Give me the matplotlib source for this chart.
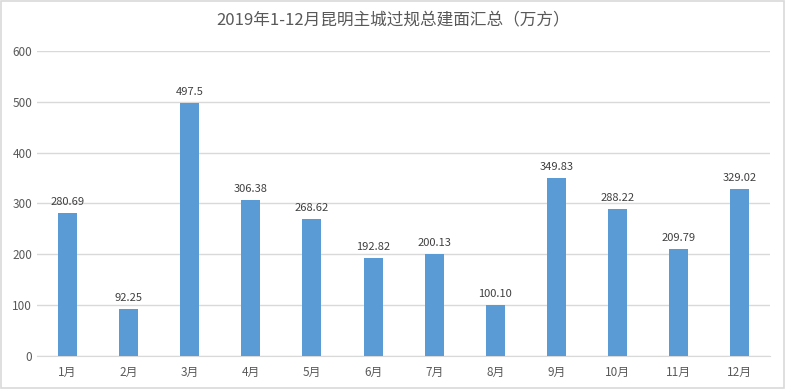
import matplotlib.pyplot as plt
from matplotlib.patches import Rectangle

plt.rcParams['font.family'] = ['Noto Sans CJK SC', 'DejaVu Sans']

months = ['1月', '2月', '3月', '4月', '5月', '6月', '7月', '8月', '9月', '10月', '11月', '12月']
values = [280.69, 92.25, 497.5, 306.38, 268.62, 192.82, 200.13, 100.10, 349.83, 288.22, 209.79, 329.02]
labels = ['280.69', '92.25', '497.5', '306.38', '268.62', '192.82', '200.13', '100.10',
          '349.83', '288.22', '209.79', '329.02']

fig = plt.figure(figsize=(7.86, 3.89), dpi=100)
ax = fig.add_axes([0.047, 0.085, 0.933, 0.784])

x = range(len(months))
ax.bar(x, values, width=0.31, color='#5b9bd5', zorder=3)
for i, v in enumerate(values):
    ax.text(i, v + 12, labels[i], ha='center', va='bottom', fontsize=8, color='#404040')

ax.set_xlim(-0.5, len(months) - 0.5)
ax.set_ylim(0, 600)
ax.set_yticks(range(0, 601, 100))
ax.set_xticks(list(x))
ax.set_xticklabels(months)
ax.yaxis.grid(True, color='#d9d9d9', linewidth=1, zorder=0)
for s in ['top', 'right', 'left']:
    ax.spines[s].set_visible(False)
ax.spines['bottom'].set_color('#d9d9d9')
ax.tick_params(axis='both', length=0, labelsize=8.5, colors='#595959')
ax.tick_params(axis='x', pad=7)

fig.text(0.5, 0.948, '2019年1-12月昆明主城过规总建面汇总（万方）', ha='center', va='center',
         fontsize=12, color='#595959')
fig.patches.append(Rectangle((0.001, 0.002), 0.997, 0.995, transform=fig.transFigure,
                             fill=False, edgecolor='#d9d9d9', linewidth=1.2))

fig.savefig('out.png', dpi=100)
